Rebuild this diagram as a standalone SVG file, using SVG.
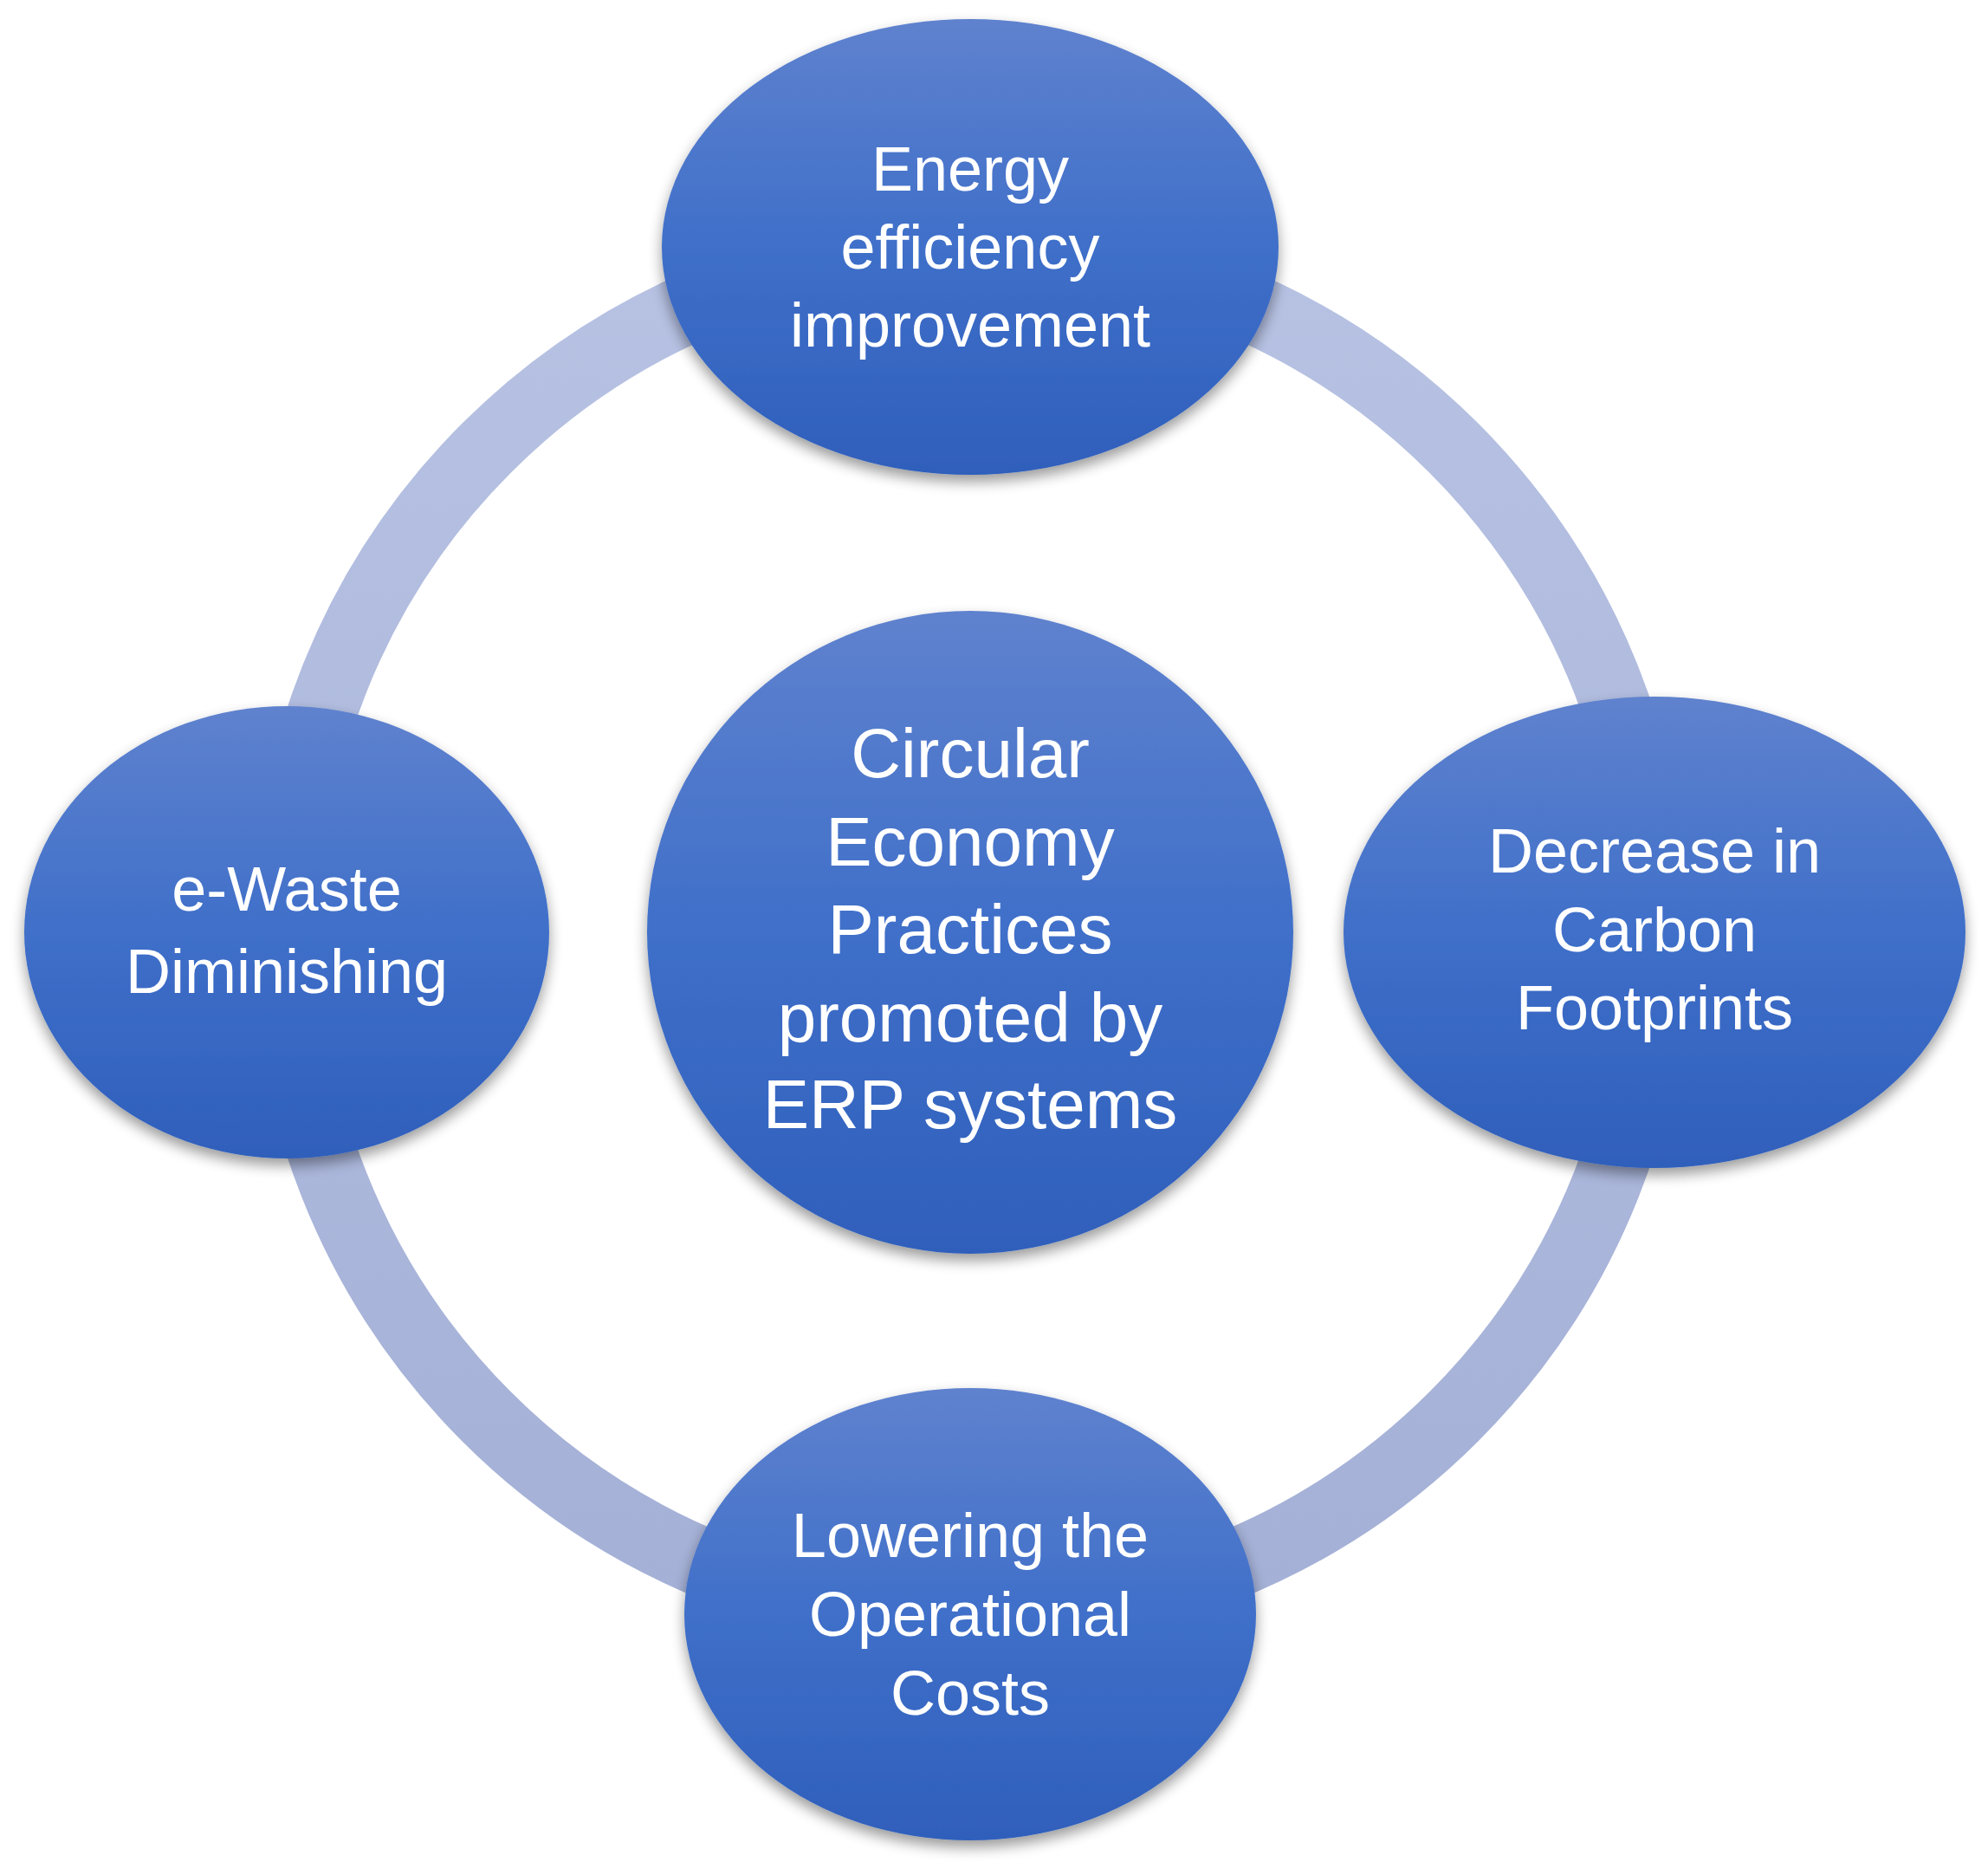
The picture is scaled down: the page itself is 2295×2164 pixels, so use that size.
<svg xmlns="http://www.w3.org/2000/svg" width="2295" height="2164" viewBox="0 0 2295 2164">
<defs>
<linearGradient id="g" x1="0" y1="0" x2="0" y2="1">
<stop offset="0" stop-color="#5f82ce"/><stop offset="0.5" stop-color="#3f6fc9"/><stop offset="1" stop-color="#2f5fbb"/>
</linearGradient>
<linearGradient id="rg" x1="0" y1="0" x2="0" y2="1">
<stop offset="0" stop-color="#b7c2e3"/><stop offset="1" stop-color="#a4b0d6"/>
</linearGradient>
<filter id="sh" x="-20%" y="-20%" width="140%" height="150%">
<feGaussianBlur in="SourceAlpha" stdDeviation="8"/><feOffset dy="8"/>
<feComponentTransfer><feFuncA type="linear" slope="0.4"/></feComponentTransfer>
<feMerge><feMergeNode/><feMergeNode in="SourceGraphic"/></feMerge>
</filter>
<style>
.n{fill:url(#g);filter:url(#sh)}
.t{fill:#fff;font-family:"Liberation Sans",Arial,sans-serif;font-size:72px;text-anchor:middle}
.c{font-size:80px}
</style>
</defs>
<rect width="2295" height="2164" fill="#fff"/>
<g id="connectors"><circle cx="1120" cy="1076" r="790" fill="none" stroke="url(#rg)" stroke-width="80"/></g>
<g id="center"><ellipse class="n" cx="1120" cy="1076" rx="373" ry="371"/>
<text class="t c" x="1120"><tspan x="1120" y="897">Circular</tspan><tspan x="1120" y="999">Economy</tspan><tspan x="1120" y="1100">Practices</tspan><tspan x="1120" y="1202">promoted by</tspan><tspan x="1120" y="1302">ERP systems</tspan></text></g>
<g id="top"><ellipse class="n" cx="1120" cy="285" rx="356" ry="263"/>
<text class="t"><tspan x="1120" y="220">Energy</tspan><tspan x="1120" y="310">efficiency</tspan><tspan x="1120" y="400">improvement</tspan></text></g>
<g id="left"><ellipse class="n" cx="331" cy="1076" rx="303" ry="261"/>
<text class="t"><tspan x="331" y="1051">e-Waste</tspan><tspan x="331" y="1146">Diminishing</tspan></text></g>
<g id="right"><ellipse class="n" cx="1910" cy="1076" rx="359" ry="272"/>
<text class="t"><tspan x="1910" y="1007">Decrease in</tspan><tspan x="1910" y="1098">Carbon</tspan><tspan x="1910" y="1188">Footprints</tspan></text></g>
<g id="bottom"><ellipse class="n" cx="1120" cy="1863" rx="330" ry="261"/>
<text class="t"><tspan x="1120" y="1797">Lowering the</tspan><tspan x="1120" y="1888">Operational</tspan><tspan x="1120" y="1979">Costs</tspan></text></g>
</svg>
